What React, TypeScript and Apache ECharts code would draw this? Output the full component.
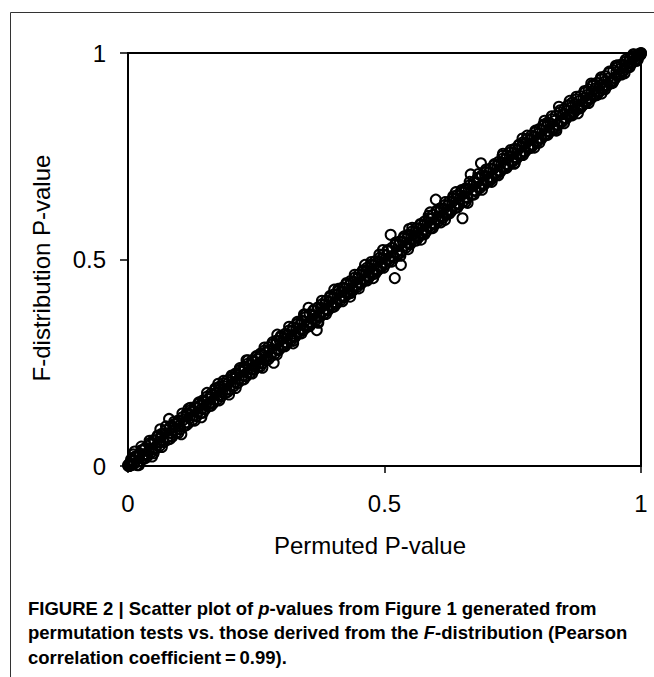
import React, { useEffect, useRef } from "react";
import * as echarts from "echarts";

// Axis tick labels
const xTickLabels = ["0", "0.5", "1"];
const yTickLabels = ["0", "0.5", "1"];
const xAxisTitle = "Permuted P-value";
const yAxisTitle = "F-distribution P-value";

// Permuted P-value vs F-distribution P-value
const bandPointsA: number[][] = [
  [0.000,0.002],[0.004,0.001],[0.008,0.012],[0.012,0.006],[0.016,0.022],[0.020,0.011],[0.024,0.030],[0.028,0.020],
  [0.032,0.041],[0.036,0.029],[0.040,0.035],[0.044,0.052],[0.048,0.040],[0.052,0.061],[0.056,0.050],[0.060,0.058],
  [0.064,0.071],[0.068,0.062],[0.072,0.080],[0.076,0.069],[0.080,0.114],[0.084,0.080],[0.088,0.095],[0.092,0.087],
  [0.096,0.104],[0.100,0.097],[0.104,0.077],[0.108,0.112],[0.112,0.105],[0.116,0.124],[0.120,0.116],[0.124,0.131],
  [0.128,0.122],[0.132,0.140],[0.136,0.130],[0.140,0.146],[0.144,0.139],[0.148,0.155],[0.152,0.148],[0.156,0.162],
  [0.160,0.153],[0.164,0.171],[0.168,0.160],[0.172,0.178],[0.176,0.171],[0.180,0.186],[0.184,0.178],[0.188,0.193],
  [0.192,0.185],[0.196,0.202],[0.200,0.194],[0.204,0.211],[0.208,0.203],[0.212,0.219],[0.216,0.210],[0.220,0.228],
  [0.224,0.219],[0.228,0.235],[0.232,0.226],[0.236,0.243],[0.240,0.234],[0.244,0.252],[0.248,0.241],[0.252,0.259],
  [0.256,0.250],[0.260,0.268],[0.264,0.257],[0.268,0.275],[0.272,0.265],[0.276,0.282],[0.280,0.273],[0.284,0.250],
  [0.288,0.294],[0.292,0.284],[0.296,0.303],[0.300,0.292],[0.304,0.310],[0.308,0.300],[0.312,0.318],[0.316,0.309],
  [0.320,0.327],[0.324,0.316],[0.328,0.334],[0.332,0.324],[0.336,0.342],[0.340,0.333],[0.344,0.350],[0.348,0.340],
  [0.352,0.383],[0.356,0.349],[0.360,0.366],[0.364,0.357],[0.368,0.329],[0.372,0.365],[0.376,0.383],[0.380,0.374],
  [0.384,0.391],[0.388,0.380],[0.392,0.398],[0.396,0.389],[0.400,0.406],[0.404,0.397],[0.408,0.415],[0.412,0.405],
  [0.416,0.422],[0.420,0.413],[0.424,0.430],[0.428,0.420],[0.432,0.438],[0.436,0.429],[0.440,0.446],[0.444,0.437],
  [0.448,0.454],[0.452,0.445],[0.456,0.463],[0.460,0.452],[0.464,0.470],[0.468,0.461],[0.472,0.479],[0.476,0.468],
  [0.480,0.486],[0.484,0.477],[0.488,0.495],[0.492,0.484],[0.496,0.502],[0.500,0.493],[0.504,0.510],[0.508,0.501],
  [0.512,0.560],[0.516,0.509],[0.520,0.455],[0.524,0.518],[0.528,0.535],[0.532,0.487],[0.536,0.543],[0.540,0.534],
  [0.544,0.551],[0.548,0.541],[0.552,0.559],[0.556,0.550],[0.560,0.567],[0.564,0.556],[0.568,0.575],[0.572,0.564],
  [0.576,0.582],[0.580,0.573],[0.584,0.590],[0.588,0.581],[0.592,0.599],[0.596,0.588],[0.600,0.645],[0.604,0.598],
  [0.608,0.615],[0.612,0.606],[0.616,0.623],[0.620,0.613],[0.624,0.631],[0.628,0.621],[0.632,0.639],[0.636,0.630],
  [0.640,0.647],[0.644,0.636],[0.648,0.655],[0.652,0.600],[0.656,0.663],[0.660,0.652],[0.664,0.671],[0.668,0.706],
  [0.672,0.679],[0.676,0.668],[0.680,0.686],[0.684,0.676],[0.688,0.733],[0.692,0.684],[0.696,0.703],[0.700,0.692],
  [0.704,0.711],[0.708,0.700],[0.712,0.719],[0.716,0.708],[0.720,0.727],[0.724,0.716],[0.728,0.735],[0.732,0.724],
  [0.736,0.743],[0.740,0.731],[0.744,0.751],[0.748,0.739],[0.752,0.758],[0.756,0.748],[0.760,0.766],[0.764,0.755],
  [0.768,0.774],[0.772,0.762],[0.776,0.782],[0.780,0.771],[0.784,0.790],[0.788,0.778],[0.792,0.798],[0.796,0.786],
  [0.800,0.805],[0.804,0.795],[0.808,0.813],[0.812,0.802],[0.816,0.821],[0.820,0.811],[0.824,0.829],[0.828,0.818],
  [0.832,0.836],[0.836,0.827],[0.840,0.870],[0.844,0.835],[0.848,0.852],[0.852,0.843],[0.856,0.860],[0.860,0.851],
  [0.864,0.868],[0.868,0.858],[0.872,0.876],[0.876,0.866],[0.880,0.884],[0.884,0.874],[0.888,0.891],[0.892,0.883],
  [0.896,0.899],[0.900,0.891],[0.904,0.907],[0.908,0.898],[0.912,0.915],[0.916,0.906],[0.920,0.922],[0.924,0.915],
  [0.928,0.930],[0.932,0.923],[0.936,0.938],[0.940,0.931],[0.944,0.927],[0.948,0.940],[0.952,0.954],[0.956,0.948],
  [0.960,0.962],[0.964,0.957],[0.968,0.970],[0.972,0.966],[0.976,0.978],[0.980,0.975],[0.984,0.986],[0.988,0.984],
  [0.992,0.993],[0.996,0.994],[1.000,0.999],
];

const bandPointsB: number[][] = [
  [0.002,0.000],[0.006,0.016],[0.010,0.004],[0.014,0.023],[0.018,0.003],[0.022,0.025],[0.026,0.038],[0.030,0.017],
  [0.034,0.044],[0.038,0.024],[0.042,0.055],[0.046,0.033],[0.050,0.063],[0.054,0.042],[0.058,0.071],[0.062,0.049],
  [0.066,0.078],[0.070,0.058],[0.074,0.087],[0.078,0.064],[0.082,0.094],[0.086,0.071],[0.090,0.101],[0.094,0.081],
  [0.098,0.110],[0.102,0.089],[0.106,0.118],[0.110,0.097],[0.114,0.127],[0.118,0.104],[0.122,0.135],[0.126,0.112],
  [0.130,0.143],[0.134,0.121],[0.138,0.151],[0.142,0.128],[0.146,0.159],[0.150,0.137],[0.154,0.168],[0.158,0.145],
  [0.162,0.175],[0.166,0.152],[0.170,0.184],[0.174,0.161],[0.178,0.192],[0.182,0.169],[0.186,0.200],[0.190,0.177],
  [0.194,0.208],[0.198,0.185],[0.202,0.215],[0.206,0.193],[0.210,0.224],[0.214,0.201],[0.218,0.232],[0.222,0.209],
  [0.226,0.240],[0.230,0.217],[0.234,0.248],[0.238,0.225],[0.242,0.256],[0.246,0.233],[0.250,0.264],[0.254,0.241],
  [0.258,0.272],[0.262,0.249],[0.266,0.280],[0.270,0.256],[0.274,0.288],[0.278,0.265],[0.282,0.295],[0.286,0.272],
  [0.290,0.304],[0.294,0.281],[0.298,0.312],[0.302,0.289],[0.306,0.320],[0.310,0.297],[0.314,0.328],[0.318,0.305],
  [0.322,0.336],[0.326,0.313],[0.330,0.344],[0.334,0.321],[0.338,0.352],[0.342,0.329],[0.346,0.360],[0.350,0.337],
  [0.354,0.368],[0.358,0.345],[0.362,0.376],[0.366,0.353],[0.370,0.384],[0.374,0.361],[0.378,0.392],[0.382,0.369],
  [0.386,0.400],[0.390,0.377],[0.394,0.408],[0.398,0.385],[0.402,0.416],[0.406,0.393],[0.410,0.424],[0.414,0.401],
  [0.418,0.432],[0.422,0.409],[0.426,0.440],[0.430,0.417],[0.434,0.448],[0.438,0.425],[0.442,0.456],[0.446,0.433],
  [0.450,0.464],[0.454,0.441],[0.458,0.472],[0.462,0.449],[0.466,0.480],[0.470,0.457],[0.474,0.488],[0.478,0.465],
  [0.482,0.496],[0.486,0.473],[0.490,0.504],[0.494,0.481],[0.498,0.512],[0.502,0.489],[0.506,0.520],[0.510,0.497],
  [0.514,0.528],[0.518,0.505],[0.522,0.536],[0.526,0.513],[0.530,0.544],[0.534,0.521],[0.538,0.552],[0.542,0.529],
  [0.546,0.560],[0.550,0.537],[0.554,0.568],[0.558,0.545],[0.562,0.576],[0.566,0.553],[0.570,0.584],[0.574,0.561],
  [0.578,0.592],[0.582,0.569],[0.586,0.600],[0.590,0.577],[0.594,0.608],[0.598,0.585],[0.602,0.616],[0.606,0.593],
  [0.610,0.624],[0.614,0.601],[0.618,0.632],[0.622,0.609],[0.626,0.640],[0.630,0.617],[0.634,0.648],[0.638,0.625],
  [0.642,0.656],[0.646,0.633],[0.650,0.664],[0.654,0.641],[0.658,0.672],[0.662,0.649],[0.666,0.680],[0.670,0.657],
  [0.674,0.688],[0.678,0.665],[0.682,0.696],[0.686,0.673],[0.690,0.704],[0.694,0.681],[0.698,0.712],[0.702,0.689],
  [0.706,0.720],[0.710,0.697],[0.714,0.728],[0.718,0.705],[0.722,0.736],[0.726,0.713],[0.730,0.744],[0.734,0.721],
  [0.738,0.752],[0.742,0.729],[0.746,0.760],[0.750,0.737],[0.754,0.768],[0.758,0.745],[0.762,0.776],[0.766,0.753],
  [0.770,0.784],[0.774,0.761],[0.778,0.792],[0.782,0.769],[0.786,0.800],[0.790,0.777],[0.794,0.808],[0.798,0.785],
  [0.802,0.816],[0.806,0.793],[0.810,0.824],[0.814,0.801],[0.818,0.832],[0.822,0.809],[0.826,0.840],[0.830,0.817],
  [0.834,0.848],[0.838,0.825],[0.842,0.856],[0.846,0.833],[0.850,0.864],[0.854,0.841],[0.858,0.872],[0.862,0.849],
  [0.866,0.880],[0.870,0.857],[0.874,0.888],[0.878,0.865],[0.882,0.896],[0.886,0.873],[0.890,0.904],[0.894,0.881],
  [0.898,0.912],[0.902,0.889],[0.906,0.920],[0.910,0.897],[0.914,0.928],[0.918,0.905],[0.922,0.936],[0.926,0.913],
  [0.930,0.944],[0.934,0.921],[0.938,0.952],[0.942,0.929],[0.946,0.958],[0.950,0.939],[0.954,0.965],[0.958,0.948],
  [0.962,0.972],[0.966,0.957],[0.970,0.979],[0.974,0.966],[0.978,0.986],[0.982,0.975],[0.986,0.992],[0.990,0.984],
  [0.994,0.997],[0.998,0.995],
];

const bandPointsC: number[][] = [
  [0.010,0.028],[0.018,0.002],[0.026,0.047],[0.034,0.019],[0.042,0.061],[0.050,0.031],[0.058,0.074],[0.066,0.046],
  [0.074,0.096],[0.082,0.066],[0.090,0.107],[0.098,0.080],[0.106,0.127],[0.114,0.099],[0.122,0.141],[0.130,0.110],
  [0.138,0.154],[0.146,0.129],[0.154,0.177],[0.162,0.146],[0.170,0.188],[0.178,0.159],[0.186,0.206],[0.194,0.179],
  [0.202,0.219],[0.210,0.189],[0.218,0.237],[0.226,0.210],[0.234,0.256],[0.242,0.224],[0.250,0.266],[0.258,0.241],
  [0.266,0.287],[0.274,0.259],[0.282,0.300],[0.290,0.270],[0.298,0.315],[0.306,0.290],[0.314,0.337],[0.322,0.303],
  [0.330,0.349],[0.338,0.321],[0.346,0.366],[0.354,0.339],[0.362,0.378],[0.370,0.349],[0.378,0.400],[0.386,0.368],
  [0.394,0.412],[0.402,0.386],[0.410,0.429],[0.418,0.399],[0.426,0.443],[0.434,0.419],[0.442,0.463],[0.450,0.430],
  [0.458,0.474],[0.466,0.449],[0.474,0.494],[0.482,0.466],[0.490,0.512],[0.498,0.480],[0.506,0.523],[0.514,0.495],
  [0.522,0.541],[0.530,0.515],[0.538,0.556],[0.546,0.525],[0.554,0.577],[0.562,0.546],[0.570,0.586],[0.578,0.561],
  [0.586,0.606],[0.594,0.576],[0.602,0.619],[0.610,0.590],[0.618,0.639],[0.626,0.611],[0.634,0.653],[0.642,0.626],
  [0.650,0.668],[0.658,0.639],[0.666,0.688],[0.674,0.657],[0.682,0.698],[0.690,0.669],[0.698,0.718],[0.706,0.691],
  [0.714,0.731],[0.722,0.704],[0.730,0.751],[0.738,0.722],[0.746,0.765],[0.754,0.734],[0.762,0.778],[0.770,0.753],
  [0.778,0.800],[0.786,0.771],[0.794,0.812],[0.802,0.783],[0.810,0.827],[0.818,0.802],[0.826,0.847],[0.834,0.816],
  [0.842,0.861],[0.850,0.830],[0.858,0.874],[0.866,0.849],[0.874,0.894],[0.882,0.867],[0.890,0.908],[0.898,0.879],
  [0.906,0.923],[0.914,0.898],[0.922,0.941],[0.930,0.912],[0.938,0.955],[0.946,0.931],[0.954,0.970],[0.962,0.948],
  [0.970,0.984],[0.978,0.966],[0.986,0.996],[0.994,0.985],
];

const edgePoints: number[][] = [
  [0.013,0.035],[0.021,0.002],[0.047,0.023],[0.063,0.089],[0.118,0.139],[0.143,0.118],[0.176,0.199],[0.197,0.173],
  [0.231,0.256],[0.262,0.238],[0.291,0.318],[0.322,0.297],[0.343,0.367],[0.371,0.347],[0.402,0.427],[0.433,0.410],
  [0.462,0.487],[0.478,0.455],[0.497,0.523],[0.531,0.509],[0.548,0.574],[0.571,0.548],[0.589,0.614],[0.618,0.596],
  [0.639,0.663],[0.662,0.637],[0.683,0.707],[0.709,0.688],[0.731,0.756],[0.753,0.732],[0.769,0.793],[0.792,0.771],
  [0.812,0.836],[0.835,0.812],[0.861,0.884],[0.877,0.854],[0.903,0.926],[0.923,0.902],[0.951,0.969],[0.968,0.951],
  [0.985,0.997],[0.992,0.981],[1.000,1.000],[0.999,0.996],[0.003,0.006],[0.001,0.000],[0.007,0.002],
];

const FONT = "'Liberation Sans', Arial, Helvetica, sans-serif";
const CAPTION_FONT = "'Liberation Sans Narrow', 'Liberation Sans', Arial, sans-serif";

export default function App() {
  const ref = useRef<HTMLDivElement>(null);

  useEffect(() => {
    document.body.style.margin = "0";
    if (!ref.current) return;
    const chart = echarts.init(ref.current, undefined, { renderer: "svg" });
    const allPoints = [...bandPointsA, ...bandPointsB, ...bandPointsC, ...edgePoints];

    const captionStyle = {
      fontFamily: CAPTION_FONT,
      fontWeight: "bold",
      fontSize: 18.5,
      lineHeight: 24.5,
      fill: "#000",
    };

    chart.setOption({
      animation: false,
      backgroundColor: "#fff",
      grid: {
        left: 128,
        top: 53,
        width: 513,
        height: 413,
        containLabel: false,
        outerBoundsMode: "none",
        show: true,
        borderColor: "#000",
        borderWidth: 2,
        backgroundColor: "transparent",
      },
      xAxis: {
        type: "value",
        min: 0,
        max: 1,
        interval: 0.5,
        splitLine: { show: false },
        axisLine: { show: true, lineStyle: { color: "#000", width: 2 } },
        axisTick: { show: true, inside: false, length: 7, lineStyle: { color: "#000", width: 1.5 } },
        axisLabel: {
          color: "#000",
          fontSize: 24,
          fontFamily: FONT,
          margin: 25,
          formatter: (v: number) => xTickLabels[Math.round(v * 2)] ?? "",
        },
      },
      yAxis: {
        type: "value",
        min: 0,
        max: 1,
        interval: 0.5,
        splitLine: { show: false },
        axisLine: { show: true, lineStyle: { color: "#000", width: 2 } },
        axisTick: { show: true, inside: false, length: 8, lineStyle: { color: "#000", width: 1.5 } },
        axisLabel: {
          color: "#000",
          fontSize: 24,
          fontFamily: FONT,
          margin: 22,
          formatter: (v: number) => yTickLabels[Math.round(v * 2)] ?? "",
        },
      },
      series: [
        {
          type: "scatter",
          data: allPoints,
          symbol: "circle",
          symbolSize: 10,
          clip: false,
          itemStyle: {
            color: "rgba(0,0,0,0)",
            borderColor: "#000",
            borderWidth: 2,
            opacity: 1,
          },
          emphasis: { disabled: true },
        },
      ],
      graphic: [
        {
          type: "rect",
          shape: { x: 10.5, y: 12.5, width: 700, height: 700 },
          style: { fill: "none", stroke: "#333", lineWidth: 1 },
          silent: true,
          z: -1,
        },
        {
          type: "text",
          x: 370,
          y: 545,
          style: {
            text: xAxisTitle,
            fontFamily: FONT,
            fontSize: 24,
            fill: "#000",
            align: "center",
            verticalAlign: "middle",
          },
        },
        {
          type: "text",
          x: 41,
          y: 268,
          rotation: Math.PI / 2,
          style: {
            text: yAxisTitle,
            fontFamily: FONT,
            fontSize: 24,
            fill: "#000",
            align: "center",
            verticalAlign: "middle",
          },
        },
        {
          type: "text",
          x: 28,
          y: 596,
          style: {
            text:
              "{b|FIGURE 2 | Scatter plot of }{bi|p}{b|-values from Figure 1 generated from}\n" +
              "{b|permutation tests vs. those derived from the }{bi|F}{b|-distribution (Pearson}\n" +
              "{b|correlation coefficient\u2009=\u20090.99).}",
            align: "left",
            verticalAlign: "top",
            rich: {
              b: { ...captionStyle },
              bi: { ...captionStyle, fontStyle: "italic" },
            },
          },
        },
      ],
    });

    return () => chart.dispose();
  }, []);

  return <div ref={ref} style={{ width: 654, height: 677 }} />;
}
